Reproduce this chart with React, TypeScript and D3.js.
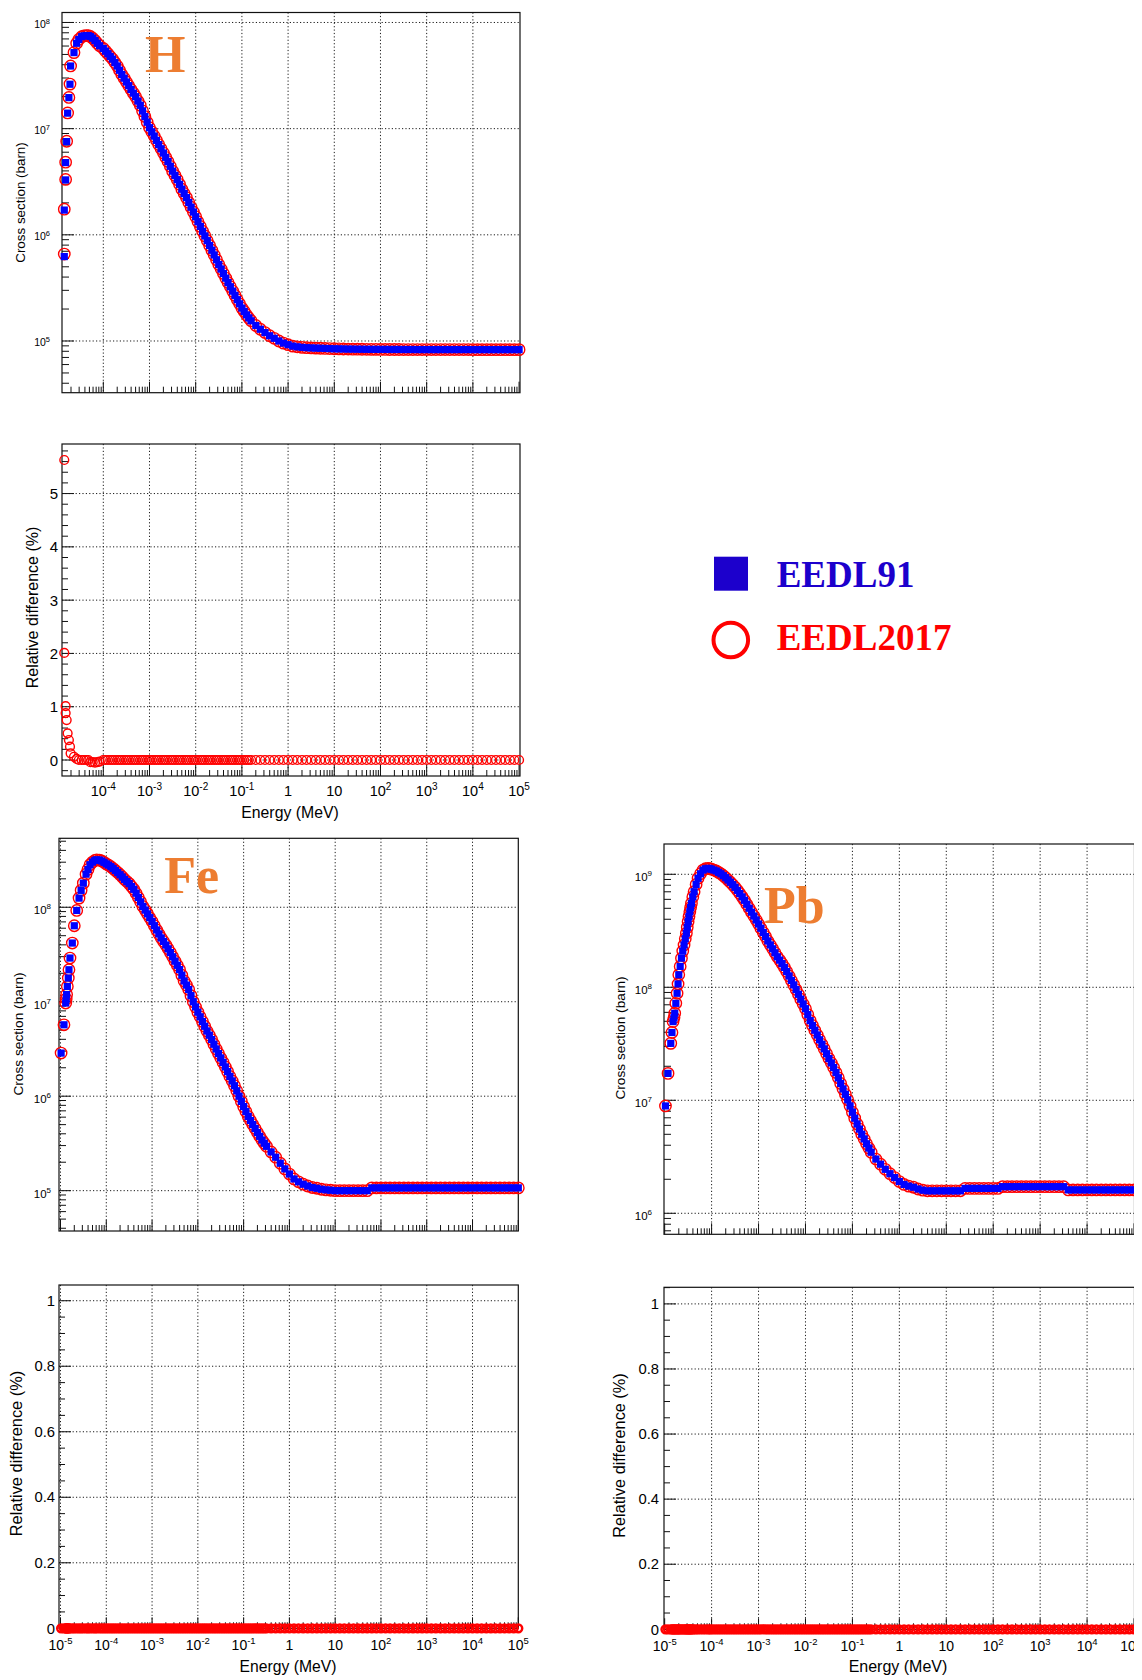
import React from "react";
import * as d3 from "d3";

// ================= DATA =================
// Hydrogen: electron-impact ionisation cross section, energies in MeV, cross sections in barn
const H_energy = [
  1.43e-5, 1.43e-5, 1.53e-5, 1.53e-5, 1.61e-5, 1.69e-5, 1.8e-5, 1.9e-5, 1.96e-5, 2.32e-5,
  2.65e-5, 2.95e-5, 3.4e-5, 3.8e-5, 4.27e-5, 4.73e-5, 5.25e-5, 5.89e-5, 6.61e-5, 7.41e-5,
  8.32e-5,
  1e-4, 1.12e-4, 1.26e-4, 1.41e-4, 1.58e-4, 1.78e-4, 2e-4, 2.24e-4, 2.51e-4, 2.82e-4,
  3.16e-4, 3.55e-4, 3.98e-4, 4.47e-4, 5.01e-4, 5.62e-4, 6.31e-4, 7.08e-4, 7.94e-4, 8.91e-4,
  1e-3, 1.12e-3, 1.26e-3, 1.41e-3, 1.58e-3, 1.78e-3, 2e-3, 2.24e-3, 2.51e-3, 2.82e-3,
  3.16e-3, 3.55e-3, 3.98e-3, 4.47e-3, 5.01e-3, 5.62e-3, 6.31e-3, 7.08e-3, 7.94e-3, 8.91e-3,
  1e-2, 1.12e-2, 1.26e-2, 1.41e-2, 1.58e-2, 1.78e-2, 2e-2, 2.24e-2, 2.51e-2, 2.82e-2,
  3.16e-2, 3.55e-2, 3.98e-2, 4.47e-2, 5.01e-2, 5.62e-2, 6.31e-2, 7.08e-2, 7.94e-2, 8.91e-2,
  0.1, 0.112, 0.126, 0.141, 0.158,
  0.2, 0.251, 0.316, 0.398, 0.501, 0.631, 0.794,
  1, 1.26, 1.58, 2, 2.51, 3.16, 3.98, 5.01, 6.31, 7.94,
  10, 12.6, 15.8, 20, 25.1, 31.6, 39.8, 50.1, 63.1, 79.4,
  100, 126, 158, 200, 251, 316, 398, 501, 631, 794,
  1e3, 1.26e3, 1.58e3, 2e3, 2.51e3, 3.16e3, 3.98e3, 5.01e3, 6.31e3, 7.94e3,
  1e4, 1.26e4, 1.58e4, 2e4, 2.51e4, 3.16e4, 3.98e4, 5.01e4, 6.31e4, 7.94e4,
  1e5,
];
const H_EEDL91 = [
  6.24e5, 1.71e6, 3.29e6, 4.79e6, 7.55e6, 1.4e7, 1.96e7, 2.62e7, 3.89e7, 5.2e7,
  6.37e7, 6.92e7, 7.35e7, 7.48e7, 7.53e7, 7.52e7, 7.38e7, 7.11e7, 6.76e7, 6.38e7,
  6.03e7,
  5.69e7, 5.37e7, 5.07e7, 4.79e7, 4.52e7, 4.19e7, 3.89e7, 3.55e7, 3.24e7, 2.99e7,
  2.75e7, 2.54e7, 2.34e7, 2.16e7, 2e7, 1.82e7, 1.66e7, 1.47e7, 1.3e7, 1.15e7,
  1.02e7, 9.33e6, 8.51e6, 7.76e6, 7.08e6, 6.46e6, 5.89e6, 5.37e6, 4.9e6, 4.42e6,
  3.98e6, 3.63e6, 3.31e6, 2.99e6, 2.69e6, 2.45e6, 2.24e6, 2.02e6, 1.82e6, 1.64e6,
  1.48e6, 1.33e6, 1.2e6, 1.08e6, 9.77e5, 8.81e5, 7.94e5, 7.16e5, 6.46e5, 5.82e5,
  5.25e5, 4.76e5, 4.32e5, 3.91e5, 3.55e5, 3.24e5, 2.95e5, 2.69e5, 2.45e5, 2.24e5,
  2.04e5, 1.9e5, 1.76e5, 1.65e5, 1.55e5,
  1.4e5, 1.29e5, 1.2e5, 1.12e5, 1.06e5, 1e5, 9.55e4,
  9.23e4, 8.95e4, 8.81e4, 8.71e4, 8.65e4, 8.61e4, 8.57e4, 8.54e4, 8.51e4, 8.48e4,
  8.45e4, 8.43e4, 8.41e4, 8.39e4, 8.38e4, 8.37e4, 8.36e4, 8.35e4, 8.34e4, 8.34e4,
  8.33e4, 8.33e4, 8.32e4, 8.32e4, 8.32e4, 8.31e4, 8.31e4, 8.31e4, 8.3e4, 8.3e4,
  8.3e4, 8.3e4, 8.3e4, 8.3e4, 8.3e4, 8.3e4, 8.3e4, 8.3e4, 8.3e4, 8.3e4,
  8.29e4, 8.29e4, 8.29e4, 8.29e4, 8.29e4, 8.29e4, 8.29e4, 8.29e4, 8.29e4, 8.29e4,
  8.29e4,
];
// relative difference EEDL2017 vs EEDL91 (%)
const H_relDiff = [
  5.63, 2.01, 1.01, 0.88, 0.75, 0.5, 0.375, 0.25, 0.125, 0.06,
  0.02, 0, 0, 0, 0, 0, -0.04, -0.04, -0.05, -0.04,
  -0.03,
  0, 0, 0, 0, 0, 0, 0, 0, 0, 0,
  0, 0, 0, 0, 0, 0, 0, 0, 0, 0,
  0, 0, 0, 0, 0, 0, 0, 0, 0, 0,
  0, 0, 0, 0, 0, 0, 0, 0, 0, 0,
  0, 0, 0, 0, 0, 0, 0, 0, 0, 0,
  0, 0, 0, 0, 0, 0, 0, 0, 0, 0,
  0, 0, 0, 0, 0,
  0, 0, 0, 0, 0, 0, 0,
  0, 0, 0, 0, 0, 0, 0, 0, 0, 0,
  0, 0, 0, 0, 0, 0, 0, 0, 0, 0,
  0, 0, 0, 0, 0, 0, 0, 0, 0, 0,
  0, 0, 0, 0, 0, 0, 0, 0, 0, 0,
  0, 0, 0, 0, 0, 0, 0, 0, 0, 0,
  0,
];
const H_EEDL2017 = H_EEDL91.map((v, i) => v * (1 + H_relDiff[i] / 100));

// Iron
const Fe_energy = [
  1.03e-5, 1.19e-5, 1.3e-5, 1.33e-5, 1.36e-5, 1.41e-5, 1.48e-5, 1.53e-5, 1.61e-5, 1.81e-5,
  2e-5, 2.26e-5, 2.54e-5, 2.82e-5, 3.15e-5, 3.61e-5, 3.98e-5, 4.41e-5, 5.01e-5, 5.62e-5,
  6.17e-5, 7.08e-5, 7.94e-5, 8.91e-5,
  1e-4, 1.12e-4, 1.26e-4, 1.41e-4, 1.58e-4, 1.78e-4, 2e-4, 2.24e-4, 2.51e-4, 2.82e-4,
  3.16e-4, 3.55e-4, 3.98e-4, 4.47e-4, 5.01e-4, 5.62e-4, 6.31e-4, 7.08e-4, 7.94e-4, 8.91e-4,
  1e-3, 1.12e-3, 1.26e-3, 1.41e-3, 1.58e-3, 1.78e-3, 2e-3, 2.24e-3, 2.51e-3, 2.82e-3,
  3.16e-3, 3.55e-3, 3.98e-3, 4.47e-3, 5.01e-3, 5.62e-3, 6.31e-3, 7.08e-3, 7.94e-3, 8.91e-3,
  1e-2, 1.12e-2, 1.26e-2, 1.41e-2, 1.58e-2, 1.78e-2, 2e-2, 2.24e-2, 2.51e-2, 2.82e-2,
  3.16e-2, 3.55e-2, 3.98e-2, 4.47e-2, 5.01e-2, 5.62e-2, 6.31e-2, 7.08e-2, 7.94e-2, 8.91e-2,
  0.1, 0.112, 0.126, 0.141, 0.158, 0.178, 0.2, 0.224, 0.251, 0.282,
  0.316, 0.398, 0.501, 0.631, 0.794,
  1, 1.26, 1.58, 2, 2.51, 3.16, 3.98, 5.01, 6.31, 7.94,
  10, 12.6, 15.8, 20, 25.1, 31.6, 39.8, 50.1, 63.1, 79.4,
  100, 126, 158, 200, 251, 316, 398, 501, 631, 794,
  1e3, 1.26e3, 1.58e3, 2e3, 2.51e3, 3.16e3, 3.98e3, 5.01e3, 6.31e3, 7.94e3,
  1e4, 1.26e4, 1.58e4, 2e4, 2.51e4, 3.16e4, 3.98e4, 5.01e4, 6.31e4, 7.94e4,
  1e5,
];
const Fe_EEDL91 = [
  2.86e6, 5.7e6, 9.68e6, 1.07e7, 1.19e7, 1.45e7, 1.78e7, 2.18e7, 2.9e7, 4.18e7,
  6.37e7, 9.25e7, 1.25e8, 1.51e8, 1.8e8, 2.24e8, 2.51e8, 2.82e8, 3.01e8, 3.13e8,
  3.18e8, 3.16e8, 3.09e8, 2.99e8,
  2.88e8, 2.79e8, 2.69e8, 2.57e8, 2.45e8, 2.33e8, 2.21e8, 2.09e8, 1.97e8, 1.87e8,
  1.78e8, 1.66e8, 1.55e8, 1.41e8, 1.27e8, 1.14e8, 1.02e8, 9.33e7, 8.51e7, 7.76e7,
  7.08e7, 6.38e7, 5.75e7, 5.22e7, 4.73e7, 4.35e7, 3.98e7, 3.63e7, 3.31e7, 2.99e7,
  2.69e7, 2.43e7, 2.19e7, 1.91e7, 1.66e7, 1.5e7, 1.35e7, 1.16e7, 1e7, 8.81e6,
  7.76e6, 6.92e6, 6.17e6, 5.5e6, 4.9e6, 4.42e6, 3.98e6, 3.55e6, 3.16e6, 2.83e6,
  2.54e6, 2.28e6, 2.04e6, 1.82e6, 1.62e6, 1.45e6, 1.29e6, 1.14e6, 1e6, 8.81e5,
  7.76e5, 6.89e5, 6.11e5, 5.53e5, 5.01e5, 4.55e5, 4.12e5, 3.76e5, 3.43e5, 3.18e5,
  2.95e5, 2.57e5, 2.26e5, 1.95e5, 1.7e5,
  1.5e5, 1.33e5, 1.24e5, 1.17e5, 1.12e5, 1.08e5, 1.06e5, 1.035e5, 1.02e5, 1.01e5,
  1e5, 1e5, 1e5, 1e5, 1e5, 1e5, 1e5, 1e5, 1.07e5, 1.07e5,
  1.07e5, 1.07e5, 1.07e5, 1.07e5, 1.07e5, 1.07e5, 1.07e5, 1.07e5, 1.07e5, 1.07e5,
  1.07e5, 1.07e5, 1.07e5, 1.07e5, 1.07e5, 1.07e5, 1.07e5, 1.07e5, 1.07e5, 1.07e5,
  1.07e5, 1.07e5, 1.07e5, 1.07e5, 1.07e5, 1.07e5, 1.07e5, 1.07e5, 1.07e5, 1.07e5,
  1.07e5,
];
const Fe_relDiff = [
  0, 0, 0, 0, 0, 0, 0, 0, 0, 0,
  0, 0, 0, 0, 0, 0, 0, 0, 0, 0,
  0, 0, 0, 0,
  0, 0, 0, 0, 0, 0, 0, 0, 0, 0,
  0, 0, 0, 0, 0, 0, 0, 0, 0, 0,
  0, 0, 0, 0, 0, 0, 0, 0, 0, 0,
  0, 0, 0, 0, 0, 0, 0, 0, 0, 0,
  0, 0, 0, 0, 0, 0, 0, 0, 0, 0,
  0, 0, 0, 0, 0, 0, 0, 0, 0, 0,
  0, 0, 0, 0, 0, 0, 0, 0, 0, 0,
  0, 0, 0, 0, 0,
  0, 0, 0, 0, 0, 0, 0, 0, 0, 0,
  0, 0, 0, 0, 0, 0, 0, 0, 0, 0,
  0, 0, 0, 0, 0, 0, 0, 0, 0, 0,
  0, 0, 0, 0, 0, 0, 0, 0, 0, 0,
  0, 0, 0, 0, 0, 0, 0, 0, 0, 0,
  0,
];
const Fe_EEDL2017 = Fe_EEDL91.map((v, i) => v * (1 + Fe_relDiff[i] / 100));

// Lead
const Pb_energy = [
  1.04e-5, 1.18e-5, 1.35e-5, 1.43e-5, 1.51e-5, 1.58e-5, 1.64e-5, 1.73e-5, 1.84e-5, 1.93e-5,
  2e-5, 2.14e-5, 2.28e-5, 2.43e-5, 2.59e-5, 2.75e-5, 2.9e-5, 3.03e-5, 3.16e-5, 3.3e-5,
  3.44e-5, 3.57e-5, 3.72e-5, 3.98e-5, 4.24e-5, 4.68e-5, 5.15e-5, 5.82e-5, 6.59e-5, 7.41e-5,
  8.41e-5, 9.12e-5,
  1e-4, 1.12e-4, 1.26e-4, 1.41e-4, 1.58e-4, 1.78e-4, 2e-4, 2.24e-4, 2.51e-4, 2.82e-4,
  3.16e-4, 3.55e-4, 3.98e-4, 4.47e-4, 5.01e-4, 5.62e-4, 6.31e-4, 7.08e-4, 7.94e-4, 8.91e-4,
  1e-3, 1.12e-3, 1.26e-3, 1.41e-3, 1.58e-3, 1.78e-3, 2e-3, 2.24e-3, 2.51e-3, 2.82e-3,
  3.16e-3, 3.55e-3, 3.98e-3, 4.47e-3, 5.01e-3, 5.62e-3, 6.31e-3, 7.08e-3, 7.94e-3, 8.91e-3,
  1e-2, 1.12e-2, 1.26e-2, 1.41e-2, 1.58e-2, 1.78e-2, 2e-2, 2.24e-2, 2.51e-2, 2.82e-2,
  3.16e-2, 3.55e-2, 3.98e-2, 4.47e-2, 5.01e-2, 5.62e-2, 6.31e-2, 7.08e-2, 7.94e-2, 8.91e-2,
  0.1, 0.112, 0.126, 0.141, 0.158, 0.178, 0.2, 0.224,
  0.251, 0.316, 0.398, 0.501, 0.631, 0.794,
  1, 1.26, 1.58, 2, 2.51, 3.16, 3.98, 5.01, 6.31, 7.94,
  10, 12.6, 15.8, 20, 25.1, 31.6, 39.8, 50.1, 63.1, 79.4,
  100, 126, 158, 200, 251, 316, 398, 501, 631, 794,
  1e3, 1.26e3, 1.58e3, 2e3, 2.51e3, 3.16e3, 3.98e3, 5.01e3, 6.31e3, 7.94e3,
  1e4, 1.26e4, 1.58e4, 2e4, 2.51e4, 3.16e4, 3.98e4, 5.01e4, 6.31e4, 7.94e4,
  1e5,
];
const Pb_EEDL91 = [
  8.91e6, 1.73e7, 3.19e7, 3.98e7, 4.97e7, 5.37e7, 5.89e7, 7.21e7, 8.85e7, 1.07e8,
  1.29e8, 1.53e8, 1.81e8, 2.09e8, 2.37e8, 2.69e8, 3.01e8, 3.39e8, 3.81e8, 4.22e8,
  4.67e8, 5.07e8, 5.53e8, 6.31e8, 7.01e8, 8.13e8, 9.23e8, 1.01e9, 1.09e9, 1.12e9,
  1.13e9, 1.12e9,
  1.11e9, 1.09e9, 1.07e9, 1.04e9, 1.01e9, 9.72e8, 9.33e8, 8.91e8, 8.51e8, 8.09e8,
  7.67e8, 7.21e8, 6.76e8, 6.31e8, 5.89e8, 5.43e8, 5.01e8, 4.62e8, 4.27e8, 3.94e8,
  3.63e8, 3.33e8, 3.05e8, 2.81e8, 2.57e8, 2.37e8, 2.19e8, 2.02e8, 1.86e8, 1.74e8,
  1.62e8, 1.5e8, 1.38e8, 1.26e8, 1.15e8, 1.05e8, 9.55e7, 8.67e7, 7.85e7, 7.11e7,
  6.46e7, 5.73e7, 5.07e7, 4.59e7, 4.17e7, 3.78e7, 3.43e7, 3.13e7, 2.85e7, 2.58e7,
  2.34e7, 2.14e7, 1.95e7, 1.76e7, 1.58e7, 1.41e7, 1.26e7, 1.13e7, 1.01e7, 8.91e6,
  7.85e6, 6.95e6, 6.17e6, 5.56e6, 5.01e6, 4.55e6, 4.12e6, 3.78e6,
  3.47e6, 3.02e6, 2.72e6, 2.45e6, 2.24e6, 2.07e6,
  1.91e6, 1.8e6, 1.74e6, 1.7e6, 1.64e6, 1.6e6, 1.58e6, 1.58e6, 1.58e6, 1.58e6,
  1.58e6, 1.58e6, 1.58e6, 1.58e6, 1.66e6, 1.66e6, 1.66e6, 1.66e6, 1.66e6, 1.66e6,
  1.66e6, 1.66e6, 1.72e6, 1.72e6, 1.72e6, 1.72e6, 1.72e6, 1.72e6, 1.72e6, 1.72e6,
  1.72e6, 1.72e6, 1.72e6, 1.72e6, 1.72e6, 1.72e6, 1.61e6, 1.61e6, 1.61e6, 1.61e6,
  1.61e6, 1.61e6, 1.61e6, 1.61e6, 1.61e6, 1.61e6, 1.61e6, 1.61e6, 1.61e6, 1.61e6,
  1.61e6,
];
const Pb_relDiff = [
  0, 0, 0, 0, 0, 0, 0, 0, 0, 0,
  0, 0, 0, 0, 0, 0, 0, 0, 0, 0,
  0, 0, 0, 0, 0, 0, 0, 0, 0, 0,
  0, 0,
  0, 0, 0, 0, 0, 0, 0, 0, 0, 0,
  0, 0, 0, 0, 0, 0, 0, 0, 0, 0,
  0, 0, 0, 0, 0, 0, 0, 0, 0, 0,
  0, 0, 0, 0, 0, 0, 0, 0, 0, 0,
  0, 0, 0, 0, 0, 0, 0, 0, 0, 0,
  0, 0, 0, 0, 0, 0, 0, 0, 0, 0,
  0, 0, 0, 0, 0, 0, 0, 0,
  0, 0, 0, 0, 0, 0,
  0, 0, 0, 0, 0, 0, 0, 0, 0, 0,
  0, 0, 0, 0, 0, 0, 0, 0, 0, 0,
  0, 0, 0, 0, 0, 0, 0, 0, 0, 0,
  0, 0, 0, 0, 0, 0, 0, 0, 0, 0,
  0, 0, 0, 0, 0, 0, 0, 0, 0, 0,
  0,
];
const Pb_EEDL2017 = Pb_EEDL91.map((v, i) => v * (1 + Pb_relDiff[i] / 100));

const seriesNames = ["EEDL91", "EEDL2017"];
const elementNames = ["H", "Fe", "Pb"];
const H_relTicks = [0, 1, 2, 3, 4, 5];
const FePb_relTicks = [0, 0.2, 0.4, 0.6, 0.8, 1];

// ================= STYLE / LAYOUT =================
const PAGE_W = 1142;
const SANS = "'Liberation Sans', Arial, Helvetica, sans-serif";
const SERIF = "'Liberation Serif', 'Times New Roman', Times, serif";
const BLUE = "#0000ff";
const RED = "#ff0000";
const ORANGE = "#ed7d31";
const LEGEND_BLUE = "#1c00cc";
const AX = "#111";

type Frame = { l: number; r: number; t: number; b: number };

function logTicks(domain: [number, number]) {
  const [a, b] = domain;
  const lo = Math.floor(Math.log10(a));
  const hi = Math.ceil(Math.log10(b));
  const out: { v: number; major: boolean; exp: number }[] = [];
  for (let e = lo; e <= hi; e++) {
    for (let m = 1; m <= 9; m++) {
      const v = m * Math.pow(10, e);
      if (v >= a * 0.9999 && v <= b * 1.0001) out.push({ v, major: m === 1, exp: e });
    }
  }
  return out;
}

function powWidth(exp: number, size: number, sup: number) {
  if (exp === 0) return 0.556 * size;
  if (exp === 1) return 1.112 * size;
  const s = String(exp);
  let w = 0;
  for (const ch of s) w += ch === "-" ? 0.36 * sup : 0.556 * sup;
  return 1.112 * size + w;
}

function PowText({ x, y, exp, size, sup, anchor }: { x: number; y: number; exp: number; size: number; sup: number; anchor: string }) {
  if (exp === 0)
    return <text x={x} y={y} fontSize={size} textAnchor={anchor} fontFamily={SANS} fill="#000">1</text>;
  if (exp === 1)
    return <text x={x} y={y} fontSize={size} textAnchor={anchor} fontFamily={SANS} fill="#000">10</text>;
  return (
    <text x={x} y={y} fontSize={size} textAnchor={anchor} fontFamily={SANS} fill="#000">
      10<tspan dy={-size * 0.42} fontSize={sup}>{String(exp)}</tspan>
    </text>
  );
}

function XAxis({ f, x, domain, labels }: { f: Frame; x: any; domain: [number, number]; labels?: { size: number; sup: number; y: number } }) {
  const ticks = logTicks(domain);
  return (
    <g>
      {ticks.filter((t) => t.major).map((t, i) => {
        const px = x(t.v);
        if (px < f.l + 1.5 || px > f.r - 1.5) return null;
        return <line key={"g" + i} x1={px} x2={px} y1={f.t} y2={f.b} stroke="#000" strokeWidth={0.9} strokeDasharray="1.2 2.2" />;
      })}
      {ticks.map((t, i) => {
        const px = x(t.v);
        return <line key={"t" + i} x1={px} x2={px} y1={f.b} y2={f.b - (t.major ? 11 : 6)} stroke={AX} strokeWidth={1} />;
      })}
      {labels && ticks.filter((t) => t.major).map((t, i) => {
        const px = x(t.v);
        const w = powWidth(t.exp, labels.size, labels.sup);
        const overflow = px + w / 2 > PAGE_W - 1;
        return (
          <PowText key={"l" + i} x={overflow ? PAGE_W - 1 : px} y={labels.y} exp={t.exp}
            size={labels.size} sup={labels.sup} anchor={overflow ? "end" : "middle"} />
        );
      })}
    </g>
  );
}

type XSCfg = {
  f: Frame; xDomain: [number, number]; yDomain: [number, number];
  yl: { size: number; sup: number; gap: number; dy: number };
  title: { x: number; y: number; size: number };
  name: string; nameX: number; nameY: number;
};

function XSPanel({ cfg, energy, s1, s2 }: { cfg: XSCfg; energy: number[]; s1: number[]; s2: number[] }) {
  const { f } = cfg;
  const x = d3.scaleLog().domain(cfg.xDomain).range([f.l, f.r]);
  const y = d3.scaleLog().domain(cfg.yDomain).range([f.b, f.t]);
  const yt = logTicks(cfg.yDomain);
  return (
    <g>
      {yt.filter((t) => t.major).map((t, i) => {
        const py = y(t.v);
        return <line key={"yg" + i} x1={f.l} x2={f.r} y1={py} y2={py} stroke="#000" strokeWidth={0.9} strokeDasharray="1.2 2.2" />;
      })}
      <XAxis f={f} x={x} domain={cfg.xDomain} />
      {yt.map((t, i) => {
        const py = y(t.v);
        return <line key={"yt" + i} x1={f.l} x2={f.l + (t.major ? 12 : 7)} y1={py} y2={py} stroke={AX} strokeWidth={1} />;
      })}
      {yt.filter((t) => t.major).map((t, i) => (
        <PowText key={"yl" + i} x={f.l - cfg.yl.gap} y={y(t.v) + cfg.yl.dy} exp={t.exp} size={cfg.yl.size} sup={cfg.yl.sup} anchor="end" />
      ))}
      <rect x={f.l} y={f.t} width={f.r - f.l} height={f.b - f.t} fill="none" stroke={AX} strokeWidth={1.2} />
      <text
        transform={`translate(${cfg.title.x},${cfg.title.y}) rotate(-90)`}
        textAnchor="middle" fontFamily={SANS} fontSize={cfg.title.size} fill="#000"
      >Cross section (barn)</text>
      <g>
        {energy.map((e, i) => (
          <circle key={"c" + i} cx={x(e)} cy={y(s2[i])} r={5.7} fill="none" stroke={RED} strokeWidth={1.4} />
        ))}
      </g>
      <g>
        {energy.map((e, i) => (
          <rect key={"s" + i} x={x(e) - 3.6} y={y(s1[i]) - 3.6} width={7.2} height={7.2} fill={BLUE} />
        ))}
      </g>
      <text x={cfg.nameX} y={cfg.nameY} fontFamily={SERIF} fontWeight="bold" fontSize={52} fill={ORANGE}>{cfg.name}</text>
    </g>
  );
}

type RelCfg = {
  f: Frame; xDomain: [number, number]; yDomain: [number, number];
  major: number[]; minorStep: number; fmt: (v: number) => string;
  yl: { size: number; gap: number; dy: number };
  xl: { size: number; sup: number; y: number };
  title: { x: number; y: number; size: number };
  energyLabel: { x: number; y: number; size: number };
  marker: { r: number; w: number };
};

function RelPanel({ cfg, energy, rel }: { cfg: RelCfg; energy: number[]; rel: number[] }) {
  const { f } = cfg;
  const x = d3.scaleLog().domain(cfg.xDomain).range([f.l, f.r]);
  const y = d3.scaleLinear().domain(cfg.yDomain).range([f.b, f.t]);
  const minor: number[] = d3.range(Math.ceil(cfg.yDomain[0] / cfg.minorStep - 1e-6), Math.floor(cfg.yDomain[1] / cfg.minorStep + 1e-6) + 1)
    .map((k) => k * cfg.minorStep);
  return (
    <g>
      {cfg.major.map((v, i) => {
        const py = y(v);
        if (py > f.b - 1.5) return null;
        return <line key={"yg" + i} x1={f.l} x2={f.r} y1={py} y2={py} stroke="#000" strokeWidth={0.9} strokeDasharray="1.2 2.2" />;
      })}
      <XAxis f={f} x={x} domain={cfg.xDomain} labels={cfg.xl} />
      {minor.map((v, i) => {
        const py = y(v);
        const isMajor = cfg.major.some((m) => Math.abs(m - v) < 1e-6);
        return <line key={"ym" + i} x1={f.l} x2={f.l + (isMajor ? 12 : 6)} y1={py} y2={py} stroke={AX} strokeWidth={1} />;
      })}
      {cfg.major.map((v, i) => (
        <text key={"yl" + i} x={f.l - cfg.yl.gap} y={y(v) + cfg.yl.dy} textAnchor="end" fontFamily={SANS} fontSize={cfg.yl.size} fill="#000">{cfg.fmt(v)}</text>
      ))}
      <rect x={f.l} y={f.t} width={f.r - f.l} height={f.b - f.t} fill="none" stroke={AX} strokeWidth={1.2} />
      <text
        transform={`translate(${cfg.title.x},${cfg.title.y}) rotate(-90)`}
        textAnchor="middle" fontFamily={SANS} fontSize={cfg.title.size} fill="#000"
      >Relative difference (%)</text>
      <text x={cfg.energyLabel.x} y={cfg.energyLabel.y} textAnchor="middle" fontFamily={SANS} fontSize={cfg.energyLabel.size} fill="#000">Energy (MeV)</text>
      <g>
        {energy.map((e, i) => (
          <circle key={"c" + i} cx={x(e)} cy={y(rel[i])} r={cfg.marker.r} fill="none" stroke={RED} strokeWidth={cfg.marker.w} />
        ))}
      </g>
    </g>
  );
}

const H_XDOM: [number, number] = [Math.pow(10, -4.894), Math.pow(10, 5.02)];
const FE_XDOM: [number, number] = [Math.pow(10, -5.033), 1e5];
const PB_XDOM: [number, number] = [Math.pow(10, -5.014), Math.pow(10, 5.01)];

const H_XS: XSCfg = {
  f: { l: 62, r: 520, t: 12.5, b: 392.7 },
  xDomain: H_XDOM,
  yDomain: [Math.pow(10, 4.513), Math.pow(10, 8.094)],
  yl: { size: 10.5, sup: 7.5, gap: 12, dy: 5.5 },
  title: { x: 25, y: 202.5, size: 13.4 },
  name: elementNames[0], nameX: 145, nameY: 72.3,
};
const FE_XS: XSCfg = {
  f: { l: 59, r: 518.3, t: 838.3, b: 1231 },
  xDomain: FE_XDOM,
  yDomain: [Math.pow(10, 4.573), Math.pow(10, 8.73)],
  yl: { size: 11.5, sup: 8, gap: 8, dy: 7 },
  title: { x: 22.8, y: 1034, size: 13.7 },
  name: elementNames[1], nameX: 164.3, nameY: 893.3,
};
const PB_XS: XSCfg = {
  f: { l: 664, r: 1134.5, t: 844, b: 1234.3 },
  xDomain: PB_XDOM,
  yDomain: [Math.pow(10, 5.814), Math.pow(10, 9.268)],
  yl: { size: 11.5, sup: 8, gap: 12, dy: 6.5 },
  title: { x: 625, y: 1038, size: 13.7 },
  name: elementNames[2], nameX: 764, nameY: 923.3,
};

const fmtInt = (v: number) => String(v);
const fmtDec = (v: number) => (v === 0 ? "0" : v === 1 ? "1" : String(Math.round(v * 10) / 10));

const H_REL: RelCfg = {
  f: { l: 62, r: 520, t: 444, b: 776 },
  xDomain: H_XDOM,
  yDomain: [-0.3, 5.93],
  major: H_relTicks, minorStep: 0.2, fmt: fmtInt,
  yl: { size: 15, gap: 4, dy: 5.5 },
  xl: { size: 14.5, sup: 10, y: 796 },
  title: { x: 38, y: 607.5, size: 16 },
  energyLabel: { x: 290, y: 817.5, size: 15.8 },
  marker: { r: 4.4, w: 1.4 },
};
const FE_REL: RelCfg = {
  f: { l: 59, r: 518.3, t: 1285, b: 1628.3 },
  xDomain: FE_XDOM,
  yDomain: [0, 1.048],
  major: FePb_relTicks, minorStep: 0.05, fmt: fmtDec,
  yl: { size: 14.8, gap: 4, dy: 5.2 },
  xl: { size: 14, sup: 9.5, y: 1650 },
  title: { x: 22, y: 1453.5, size: 16.4 },
  energyLabel: { x: 288, y: 1672, size: 15.7 },
  marker: { r: 3.9, w: 2.5 },
};
const PB_REL: RelCfg = {
  f: { l: 664, r: 1134.5, t: 1287.3, b: 1629.3 },
  xDomain: PB_XDOM,
  yDomain: [0, 1.051],
  major: FePb_relTicks, minorStep: 0.05, fmt: fmtDec,
  yl: { size: 14.8, gap: 5, dy: 5.2 },
  xl: { size: 14, sup: 9.5, y: 1651 },
  title: { x: 624.5, y: 1455.5, size: 16.3 },
  energyLabel: { x: 898, y: 1672, size: 16 },
  marker: { r: 3.9, w: 2.5 },
};

function Legend() {
  return (
    <g>
      <rect x={714} y={556.7} width={34} height={34} fill={LEGEND_BLUE} />
      <text x={776.7} y={586.7} fontFamily={SERIF} fontWeight="bold" fontSize={37} fill={LEGEND_BLUE}>{seriesNames[0]}</text>
      <circle cx={730.8} cy={640} r={17.3} fill="none" stroke={RED} strokeWidth={4} />
      <text x={776.7} y={649.5} fontFamily={SERIF} fontWeight="bold" fontSize={37} fill={RED}>{seriesNames[1]}</text>
    </g>
  );
}

export default function App() {
  return (
    <div style={{ position: "relative", width: 1142, height: 1680 }}>
      <svg
        width={1142}
        height={1680}
        viewBox="0 0 1142 1680"
        style={{ position: "absolute", left: -8, top: -8, background: "#fff" }}
      >
        <rect x={0} y={0} width={1142} height={1680} fill="#fff" />
        <XSPanel cfg={H_XS} energy={H_energy} s1={H_EEDL91} s2={H_EEDL2017} />
        <RelPanel cfg={H_REL} energy={H_energy} rel={H_relDiff} />
        <XSPanel cfg={FE_XS} energy={Fe_energy} s1={Fe_EEDL91} s2={Fe_EEDL2017} />
        <RelPanel cfg={FE_REL} energy={Fe_energy} rel={Fe_relDiff} />
        <XSPanel cfg={PB_XS} energy={Pb_energy} s1={Pb_EEDL91} s2={Pb_EEDL2017} />
        <RelPanel cfg={PB_REL} energy={Pb_energy} rel={Pb_relDiff} />
        <Legend />
      </svg>
    </div>
  );
}
